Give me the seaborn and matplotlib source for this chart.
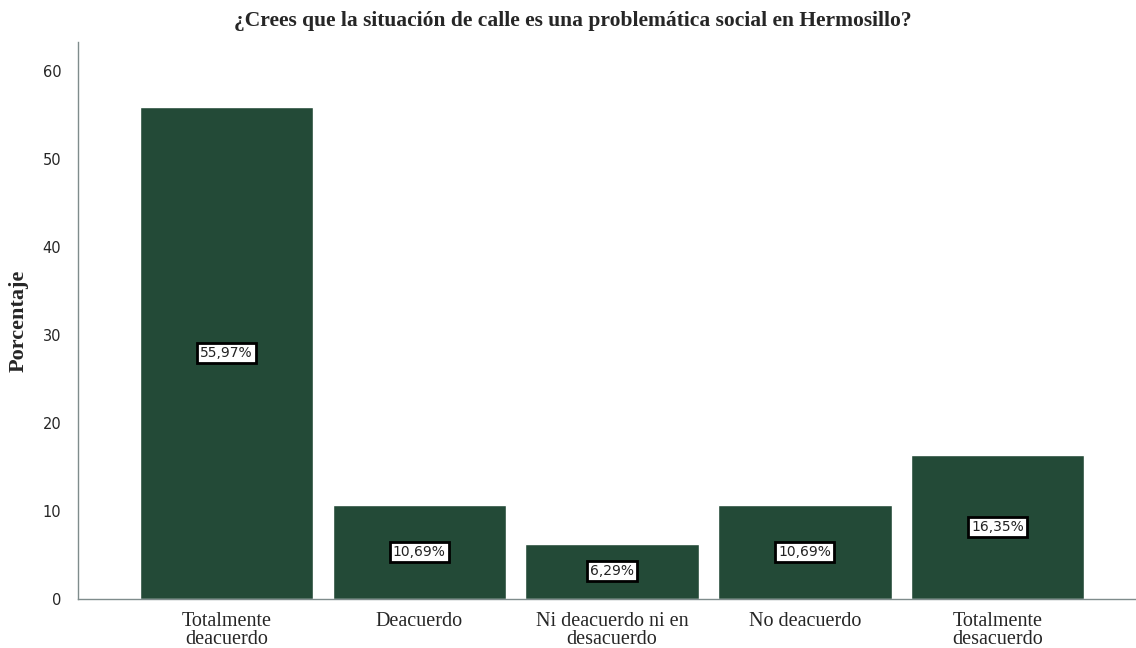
import numpy as np
import pandas as pd
import matplotlib
matplotlib.use('Agg')
import matplotlib.pyplot as plt
import seaborn as sns

categorias = ['Totalmente\ndeacuerdo', 'Deacuerdo', 'Ni deacuerdo ni en\ndesacuerdo',
              'No deacuerdo', 'Totalmente\ndesacuerdo']
porcentajes = [55.97, 10.69, 6.29, 10.69, 16.35]
etiquetas = ['55,97%', '10,69%', '6,29%', '10,69%', '16,35%']

df = pd.DataFrame({'categoria': categorias, 'porcentaje': porcentajes})

sns.set_style('white')
plt.rcParams['font.family'] = ['DejaVu Sans']

fig = plt.figure(figsize=(11.36, 6.48), dpi=100)
ax = fig.add_axes([0.0687, 0.0756, 0.930, 0.859])

sns.barplot(data=df, x='categoria', y='porcentaje', color='#234a37', saturation=1,
            width=0.9, ax=ax)

# etiquetas dentro de las barras
for i, (v, t) in enumerate(zip(porcentajes, etiquetas)):
    ax.text(i, v / 2, t, ha='center', va='center', fontsize=10, color='#222222',
            bbox=dict(boxstyle='square,pad=0.22', facecolor='white', edgecolor='black', linewidth=2))

ax.set_xlim(-0.77, 4.71)
ax.set_ylim(0, 63.3)
ax.set_yticks([0, 10, 20, 30, 40, 50, 60])
ax.tick_params(axis='y', labelsize=10.5, length=0, pad=12)
ax.tick_params(axis='x', length=0, pad=9)
for lbl in ax.get_xticklabels():
    lbl.set_fontfamily('Liberation Serif')
    lbl.set_fontsize(14.5)
    lbl.set_linespacing(0.95)

ax.set_xlabel('')
ax.set_ylabel('Porcentaje', fontfamily='Liberation Serif', fontweight='bold', fontsize=16)
ax.yaxis.set_label_coords(-0.047, 0.5)
fig.text(573 / 1136, 1 - 21 / 648,
         '¿Crees que la situación de calle es una problemática social en Hermosillo?',
         ha='center', va='center', fontfamily='Liberation Serif', fontweight='bold', fontsize=15.5)

sns.despine(ax=ax)
for s in ['left', 'bottom']:
    ax.spines[s].set_color('#7f8c8c')
    ax.spines[s].set_linewidth(1)

fig.savefig('out.png', dpi=100)
